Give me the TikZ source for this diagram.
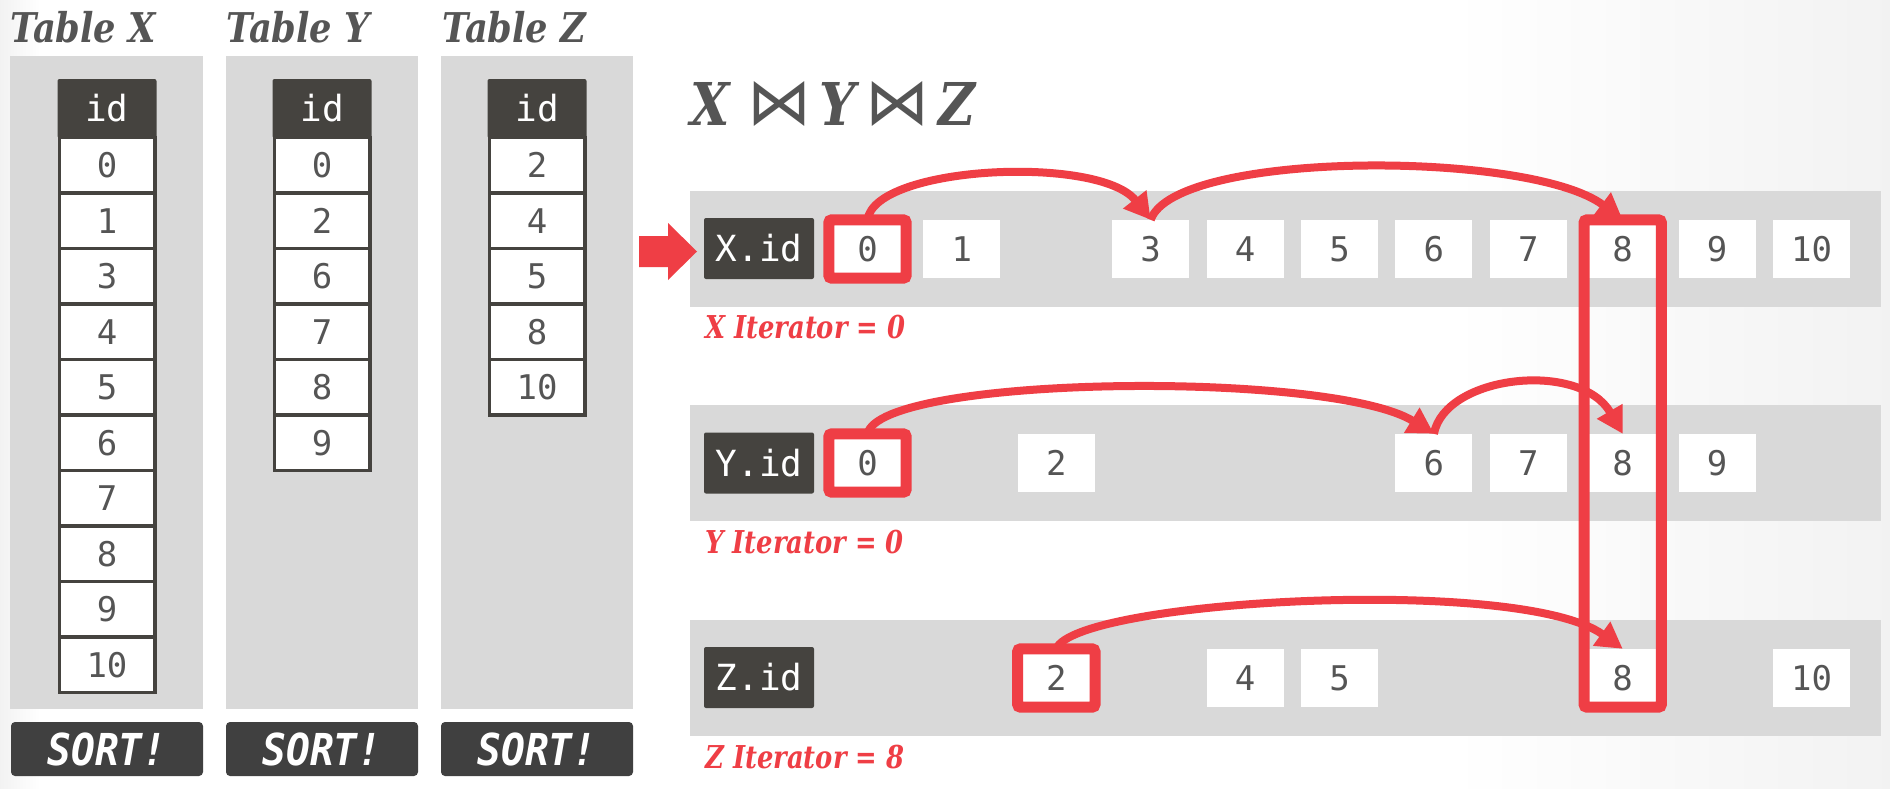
\documentclass[tikz,border=0pt]{standalone}
\usepackage{fontspec}
\setmainfont{Liberation Serif}
\newfontfamily\headfont[FakeStretch=0.86]{DejaVu Serif}
\newfontfamily\iterfont[FakeStretch=0.82]{DejaVu Serif}
\newfontfamily\cellfont{DejaVu Sans Mono}
\newfontfamily\sortfont[FakeStretch=0.9]{DejaVu Sans Mono}
\newfontfamily\symfont{DejaVu Sans}
\usetikzlibrary{arrows.meta}
\definecolor{jred}{RGB}{239,62,69}
\definecolor{jdark}{RGB}{69,67,63}
\definecolor{jsort}{RGB}{64,64,64}
\definecolor{jband}{RGB}{217,217,217}
\definecolor{jtext}{RGB}{85,85,85}
\begin{document}
\begin{tikzpicture}[x=1pt,y=-1pt,
  tabbg/.style={fill=jband},
  tabtitle/.style={anchor=base west, inner sep=0pt, text=jtext, font=\headfont\fontsize{41}{46}\selectfont\bfseries\itshape},
  thead/.style={fill=jdark, rounded corners=2pt, minimum width=99pt, minimum height=59pt, inner sep=0pt, text=white, font=\cellfont\fontsize{36}{40}\selectfont},
  tcell/.style={draw=jdark, line width=3.5pt, fill=white, minimum width=95.5pt, minimum height=55.5pt, inner sep=0pt, text=jtext, font=\cellfont\fontsize{34}{40}\selectfont},
  sortbtn/.style={fill=jsort, rounded corners=4pt, minimum width=192pt, minimum height=54pt, inner sep=0pt, text=white, font=\sortfont\fontsize{44}{48}\selectfont\bfseries\itshape},
  band/.style={fill=jband},
  lab/.style={fill=jdark, rounded corners=2pt, minimum width=110pt, minimum height=61pt, inner sep=0pt, text=white, font=\cellfont\fontsize{36}{40}\selectfont},
  vcell/.style={fill=white, minimum width=77pt, minimum height=58pt, inner sep=0pt, text=jtext, font=\cellfont\fontsize{34}{40}\selectfont},
  redbox/.style={draw=jred, line width=11pt, rounded corners=3pt},
  arr/.style={draw=jred, line width=8pt, -{Triangle[length=26pt,width=28pt]}},
  iter/.style={anchor=base west, inner sep=0pt, text=jred, font=\iterfont\fontsize{31.5}{36}\selectfont\bfseries\itshape},
  jointxt/.style={anchor=base west, inner sep=0pt, text=jtext, font=\headfont\fontsize{59}{64}\selectfont\bfseries\itshape},
  joinsym/.style={inner sep=0pt, text=jtext}
]
\useasboundingbox (0,0) rectangle (1890,788);
% background
\fill[white] (0,0) rectangle (1890,788);
\shade[left color=white, right color=black!5] (1450,0) rectangle (1890,788);
\shade[left color=black!5, right color=white] (0,0) rectangle (40,788);

% ---------- left: tables ----------
\node[tabtitle] (tx) at (10,42) {Table X};
\node[tabtitle] (ty) at (226,42) {Table Y};
\node[tabtitle] (tz) at (442,42) {Table Z};

\fill[tabbg] (10,56) rectangle (203,709);
\fill[tabbg] (226,56) rectangle (418,709);
\fill[tabbg] (441,56) rectangle (633,709);

% Table X
\node[thead] (hx) at (107,108.5) {id};
\foreach \v [count=\i from 0] in {0,1,3,4,5,6,7,8,9,10}
  \node[tcell] (tx\i) at (107,{137.5+55.5*(\i+0.5)}) {\v};
% Table Y
\node[thead] (hy) at (322,108.5) {id};
\foreach \v [count=\i from 0] in {0,2,6,7,8,9}
  \node[tcell] (ty\i) at (322,{137.5+55.5*(\i+0.5)}) {\v};
% Table Z
\node[thead] (hz) at (537,108.5) {id};
\foreach \v [count=\i from 0] in {2,4,5,8,10}
  \node[tcell] (tz\i) at (537,{137.5+55.5*(\i+0.5)}) {\v};

\node[sortbtn] (sx) at (107,749) {SORT!};
\node[sortbtn] (sy) at (322,749) {SORT!};
\node[sortbtn] (sz) at (537,749) {SORT!};

% ---------- right: join ----------
\node[jointxt] (jx) at (690,125) {X};
\node[joinsym] (j1) at (779,104) {\resizebox{64pt}{43pt}{\symfont ⋈}};
\node[jointxt] (jy) at (819,125) {Y};
\node[joinsym] (j2) at (897.5,104) {\resizebox{64pt}{43pt}{\symfont ⋈}};
\node[jointxt] (jz) at (938,125) {Z};

\fill[band] (690,191) rectangle (1881,307);
\fill[band] (690,405) rectangle (1881,521);
\fill[band] (690,620) rectangle (1881,736);

\node[lab] (lx) at (759,248.5) {X.id};
\node[lab] (ly) at (759,463) {Y.id};
\node[lab] (lz) at (759,677.5) {Z.id};

\foreach \v in {0,1,3,4,5,6,7,8,9,10}
  \node[vcell] (x\v) at ({867.5+94.4*\v},249) {\v};
\foreach \v in {0,2,6,7,8,9}
  \node[vcell] (y\v) at ({867.5+94.4*\v},463) {\v};
\foreach \v in {2,4,5,8,10}
  \node[vcell] (z\v) at ({867.5+94.4*\v},678) {\v};

% pointer arrow
\fill[jred] (639,236) -- (668,236) -- (668,223) -- (697,251.5) -- (668,280) -- (668,267) -- (639,267) -- cycle;

% red boxes
\draw[redbox] (x0.north west) rectangle (x0.south east);
\draw[redbox] (y0.north west) rectangle (y0.south east);
\draw[redbox] (z2.north west) rectangle (z2.south east);
\draw[redbox] (x8.north west) rectangle (z8.south east);

% iterator arrows
\draw[arr] (x0.north) .. controls (875,165) and (1100,155) .. (x3.north);
\draw[arr] (x3.north) .. controls (1175,150) and (1530,150) .. (x8.north);
\draw[arr] (y0.north) .. controls (880,375) and (1330,370) .. (y6.north);
\draw[arr] (y6.north) .. controls (1445,375) and (1580,360) .. (y8.north);
\draw[arr] (z2.north) .. controls (1075,600) and (1520,575) .. (z8.north);

% iterator labels
\node[iter] (itx) at (705,338) {X Iterator = 0};
\node[iter] (ity) at (705,553) {Y Iterator = 0};
\node[iter] (itz) at (705,768) {Z Iterator = 8};
\end{tikzpicture}
\end{document}
